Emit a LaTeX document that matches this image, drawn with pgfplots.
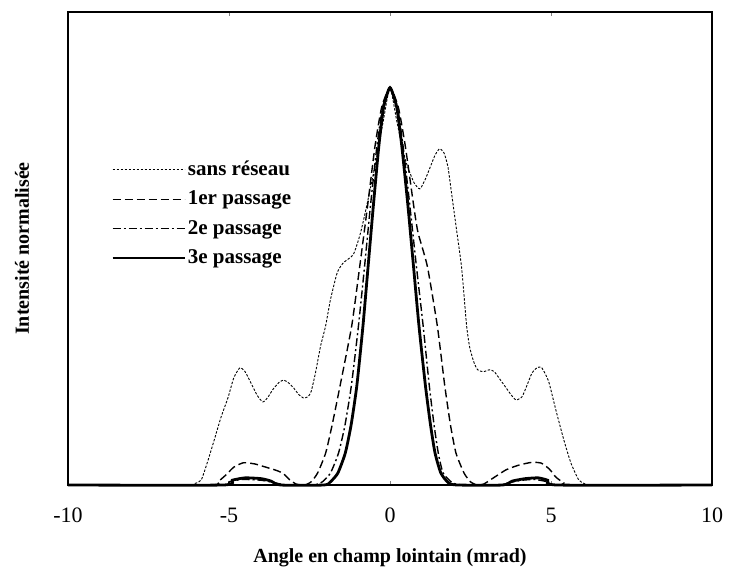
\documentclass[border=0pt]{standalone}
\usepackage{fontspec}
\setmainfont{Liberation Serif}
\usepackage{pgfplots}
\pgfplotsset{compat=1.18}

\begin{document}
\begin{tikzpicture}
\begin{axis}[
    scale only axis,
    width=322pt, height=236.5pt,
    xmin=-10, xmax=10,
    ymin=0, ymax=1.19,
    xtick={-10,-5,0,5,10},
    ytick=\empty,
    major tick length=2pt,
    axis line style={line width=0.7pt},
    clip=false,
    /pgf/number format/assume math mode=true,
    xticklabel style={font=\fontsize{11}{13}\selectfont, yshift=-8pt},
    xlabel={Angle en champ lointain (mrad)},
    ylabel={Intensité normalisée},
    xlabel style={font=\bfseries\fontsize{10}{12}\selectfont, at={(axis description cs:0.5,0)}, anchor=center, yshift=-36.5pt},
    ylabel style={font=\bfseries\fontsize{10}{12}\selectfont, at={(axis description cs:-0.0714,0.5)}, anchor=center},
    legend cell align=left,
    legend style={draw=none, fill=none, at={(0.057,0.705)}, anchor=north west,
        font=\bfseries\fontsize{10.5}{12}\selectfont,
        nodes={inner xsep=1pt, inner ysep=2.5pt}, row sep=1.2pt},
    legend image code/.code={\draw[#1] (0pt,0pt) -- (36pt,0pt);},
    every axis plot/.append style={smooth, tension=0.35},
]

% sans reseau
\addplot[black, line width=0.45pt, dash pattern=on 1.2pt off 0.8pt] coordinates {
(-10,0)(-6.3,0)(-6.05,0.004)(-5.86,0.013)(-5.66,0.06)(-5.46,0.113)(-5.25,0.17)(-5.03,0.22)(-4.85,0.27)(-4.66,0.295)
(-4.5,0.285)(-4.32,0.257)(-4.12,0.225)(-3.95,0.209)(-3.80,0.22)(-3.64,0.24)(-3.45,0.258)(-3.30,0.264)(-3.15,0.257)
(-2.99,0.244)(-2.84,0.228)(-2.69,0.219)(-2.55,0.222)(-2.45,0.235)(-2.32,0.28)(-2.16,0.348)(-2.0,0.40)(-1.85,0.466)
(-1.64,0.534)(-1.45,0.559)(-1.14,0.58)(-0.93,0.63)(-0.77,0.685)(-0.6,0.75)(-0.4,0.83)(-0.2,0.92)(0,1.0)
(0.2,0.92)(0.4,0.84)(0.55,0.80)(0.75,0.76)(0.93,0.745)(1.1,0.77)(1.25,0.80)(1.4,0.83)(1.54,0.846)(1.68,0.835)
(1.8,0.80)(1.91,0.735)(2.07,0.64)(2.22,0.55)(2.31,0.466)(2.38,0.40)(2.47,0.348)(2.6,0.31)(2.72,0.29)(2.9,0.285)
(3.09,0.29)(3.24,0.285)(3.45,0.262)(3.61,0.244)(3.78,0.225)(3.92,0.214)(4.1,0.222)(4.25,0.25)(4.41,0.282)
(4.55,0.294)(4.69,0.297)(4.82,0.28)(4.94,0.257)(5.15,0.189)(5.40,0.113)(5.62,0.055)(5.86,0.013)(6.05,0.003)(6.3,0)(10,0)
};
\addlegendentry{sans réseau}

% 1er passage
\addplot[black, line width=0.7pt, dash pattern=on 4pt off 2pt] coordinates {
(-10,0)(-5.6,0)(-5.35,0.008)(-5.1,0.025)(-4.85,0.045)(-4.55,0.056)(-4.2,0.053)(-3.9,0.046)(-3.5,0.036)(-3.3,0.028)
(-3.1,0.012)(-2.9,0.002)(-2.65,0)(-2.45,0.008)(-2.25,0.03)(-2.0,0.08)(-1.8,0.15)(-1.55,0.25)(-1.19,0.4)(-0.94,0.55)
(-0.70,0.7)(-0.47,0.85)(-0.26,0.95)(0,1)(0.26,0.95)(0.48,0.85)(0.74,0.7)(0.87,0.635)(1.16,0.55)(1.47,0.4)(1.70,0.25)
(1.88,0.15)(2.05,0.08)(2.3,0.03)(2.5,0.008)(2.7,0)(2.9,0.002)(3.1,0.012)(3.6,0.038)(4.0,0.05)(4.4,0.057)(4.7,0.055)
(4.95,0.04)(5.15,0.02)(5.4,0.005)(5.6,0)(10,0)
};
\addlegendentry{1er passage}

% 2e passage
\addplot[black, line width=0.7pt, dash pattern=on 4pt off 1.5pt on 1pt off 1.5pt] coordinates {
(-10,0)(-5.3,0)(-5.0,0.008)(-4.6,0.014)(-4.0,0.012)(-3.6,0.006)(-3.2,0)(-2.35,0)(-2.1,0.008)(-1.85,0.03)(-1.6,0.08)
(-1.40,0.15)(-1.20,0.25)(-0.98,0.4)(-0.79,0.55)(-0.61,0.7)(-0.41,0.85)(-0.23,0.95)(0,1)(0.23,0.95)(0.41,0.85)
(0.62,0.7)(0.82,0.55)(1.03,0.4)(1.22,0.25)(1.37,0.15)(1.50,0.08)(1.65,0.03)(1.95,0.005)(2.3,0)(3.4,0)(3.7,0.006)
(4.1,0.012)(4.5,0.014)(4.9,0.008)(5.2,0)(10,0)
};
\addlegendentry{2e passage}

% 3e passage
\addplot[black, line width=1.4pt] coordinates {
(-10,0)(-5.2,0)(-4.9,0.012)(-4.5,0.018)(-4.0,0.016)(-3.7,0.01)(-3.4,0)(-2.05,0)(-1.85,0.008)(-1.62,0.03)(-1.39,0.08)
(-1.21,0.15)(-1.03,0.25)(-0.84,0.4)(-0.68,0.55)(-0.52,0.7)(-0.35,0.85)(-0.2,0.95)(0,1)(0.21,0.95)(0.37,0.85)
(0.56,0.7)(0.73,0.55)(0.9,0.4)(1.1,0.25)(1.26,0.15)(1.40,0.08)(1.58,0.03)(1.82,0.005)(2.1,0)(3.5,0)(3.8,0.01)
(4.2,0.016)(4.6,0.018)(4.9,0.012)(5.2,0)(10,0)
};
\addlegendentry{3e passage}

\end{axis}
\pgfresetboundingbox
\path[use as bounding box] ([xshift=-34pt,yshift=-44.5pt]current axis.south west) rectangle ([xshift=9.5pt,yshift=6pt]current axis.north east);
\end{tikzpicture}
\end{document}
